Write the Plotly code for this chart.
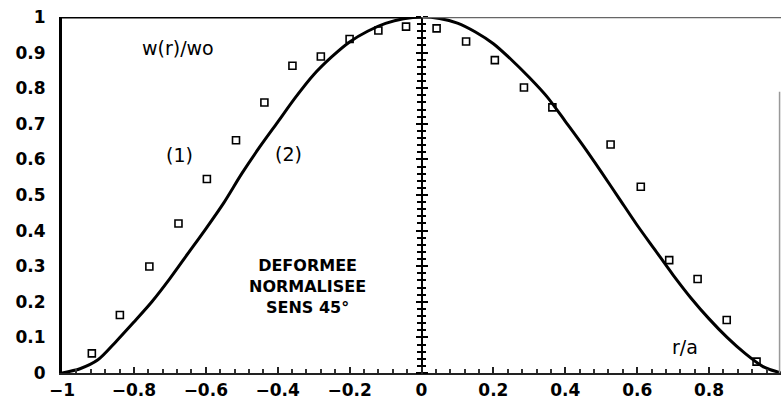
import plotly.graph_objects as go

# Curve (2): normalised deflection
curve_x = [-1, -0.95, -0.9, -0.85, -0.8, -0.75, -0.7, -0.65, -0.6, -0.55, -0.5, -0.45, -0.4, -0.35,
           -0.3, -0.25, -0.2, -0.15, -0.1, -0.05, 0,
           0.05, 0.1, 0.15, 0.2, 0.25, 0.3, 0.35, 0.4, 0.45, 0.5, 0.55, 0.6, 0.65, 0.7, 0.75,
           0.8, 0.85, 0.9, 0.95, 1.0]
curve_y = [0, 0.012, 0.037, 0.088, 0.143, 0.20, 0.265, 0.335, 0.405, 0.478, 0.56, 0.635, 0.705, 0.775,
           0.838, 0.888, 0.93, 0.96, 0.982, 0.995, 1.0,
           0.996, 0.983, 0.958, 0.925, 0.88, 0.83, 0.775, 0.707, 0.638, 0.565, 0.49, 0.415, 0.345,
           0.275, 0.21, 0.152, 0.10, 0.055, 0.018, 0]

# Measured points (1)
pts_x = [-0.917, -0.839, -0.757, -0.676, -0.597, -0.516, -0.437, -0.359, -0.28, -0.2, -0.12, -0.043,
         0.042, 0.124, 0.204, 0.285, 0.364, 0.526, 0.61, 0.689, 0.768, 0.849, 0.932]
pts_y = [0.055, 0.163, 0.299, 0.42, 0.545, 0.654, 0.76, 0.863, 0.889, 0.938, 0.962, 0.973,
         0.968, 0.931, 0.879, 0.802, 0.746, 0.642, 0.523, 0.317, 0.264, 0.149, 0.032]

x_ticks = [-1, -0.8, -0.6, -0.4, -0.2, 0, 0.2, 0.4, 0.6, 0.8]
x_labels = ["\u22121", "\u22120.8", "\u22120.6", "\u22120.4", "\u22120.2", "0", "0.2", "0.4", "0.6", "0.8"]
y_ticks = [0, 0.1, 0.2, 0.3, 0.4, 0.5, 0.6, 0.7, 0.8, 0.9, 1]
y_labels = ["0", "0.1", "0.2", "0.3", "0.4", "0.5", "0.6", "0.7", "0.8", "0.9", "1"]

fig = go.Figure()
fig.add_trace(go.Scatter(x=curve_x, y=curve_y, mode="lines",
                         line=dict(color="black", width=3, shape="spline", smoothing=0.8),
                         showlegend=False, hoverinfo="skip"))
fig.add_trace(go.Scatter(x=pts_x, y=pts_y, mode="markers",
                         marker=dict(symbol="square-open", size=7, color="black", line=dict(width=1.6)),
                         showlegend=False))
# helper traces so the axes at x=0 are drawn
fig.add_trace(go.Scatter(x=[], y=[], yaxis="y2", showlegend=False))
fig.add_trace(go.Scatter(x=[], y=[], yaxis="y3", showlegend=False))

tick_font = dict(family="DejaVu Sans", size=17, color="black", weight="bold")

fig.update_layout(
    width=781, height=400,
    margin=dict(l=62, r=0, t=17, b=27),
    paper_bgcolor="white", plot_bgcolor="white",
    xaxis=dict(range=[-1, 1], tickvals=x_ticks, ticktext=x_labels, tickfont=tick_font,
               showgrid=False, zeroline=False, showline=True, linecolor="#222", linewidth=1.5,
               ticks="inside", ticklen=6, tickwidth=2, tickcolor="#222",
               minor=dict(dtick=0.04, tick0=0, ticks="inside", ticklen=4, tickwidth=1.5, tickcolor="#333"),
               ticklabelstandoff=1),
    yaxis=dict(range=[0, 1], tickvals=y_ticks, ticktext=y_labels, tickfont=tick_font,
               showgrid=False, zeroline=False, showline=True, linecolor="black", linewidth=3,
               ticks="", ticklabelstandoff=10),
    yaxis2=dict(range=[0, 1], overlaying="y", anchor="free", position=0.5, side="left",
                showgrid=False, zeroline=False, showline=True, linecolor="black", linewidth=2,
                tickvals=y_ticks, ticks="outside", ticklen=5, tickwidth=2, tickcolor="black",
                showticklabels=False,
                minor=dict(dtick=0.02, tick0=0, ticks="outside", ticklen=4, tickwidth=1.5, tickcolor="black")),
    yaxis3=dict(range=[0, 1], overlaying="y", anchor="free", position=0.5, side="right",
                showgrid=False, zeroline=False, showline=False,
                tickvals=y_ticks, ticks="outside", ticklen=5, tickwidth=2, tickcolor="black",
                showticklabels=False,
                minor=dict(dtick=0.02, tick0=0, ticks="outside", ticklen=3, tickwidth=1.5, tickcolor="black")),
)

# frame lines
fig.add_shape(type="line", xref="x", yref="y", x0=-1, x1=0, y0=1, y1=1, line=dict(color="black", width=3))
fig.add_shape(type="line", xref="x", yref="y", x0=0, x1=1, y0=1, y1=1, line=dict(color="#666", width=2.5))
fig.add_shape(type="line", xref="x", yref="y", x0=0.996, x1=0.996, y0=0, y1=0.79, line=dict(color="#999", width=1.5))

txt = dict(family="DejaVu Sans", size=19, color="black")
bold = dict(family="DejaVu Sans", size=16, color="black", weight="bold")
fig.add_annotation(x=-0.677, y=0.913, text="w(r)/wo", showarrow=False, font=txt)
fig.add_annotation(x=-0.672, y=0.612, text="(1)", showarrow=False, font=txt)
fig.add_annotation(x=-0.369, y=0.615, text="(2)", showarrow=False, font=txt)
fig.add_annotation(x=-0.318, y=0.244, text="DEFORMEE<br>NORMALISEE<br>SENS 45\u00b0", showarrow=False,
                   font=bold, align="center")
fig.add_annotation(x=0.733, y=0.073, text="r/a", showarrow=False, font=txt)

fig.write_html("out.html", config={"displayModeBar": False},
               post_script="document.body.style.margin='0px';document.body.style.padding='0px';"
                           "document.body.style.overflow='hidden';")
